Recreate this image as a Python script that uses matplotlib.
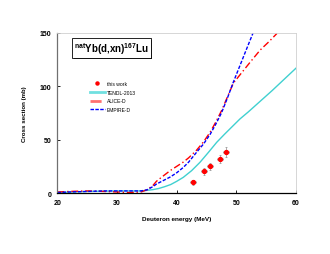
import matplotlib
matplotlib.use("Agg")
import matplotlib.pyplot as plt
import matplotlib.patheffects as pe
from matplotlib.lines import Line2D

plt.rcParams['font.family'] = ['Liberation Sans', 'DejaVu Sans']
plt.rcParams['mathtext.fontset'] = 'custom'
plt.rcParams['mathtext.bf'] = 'Liberation Sans:bold'
plt.rcParams['mathtext.rm'] = 'Liberation Sans'

exp_E = [42.8, 44.6, 45.6, 47.3, 48.2]
exp_xs = [10.0, 20.3, 25.0, 32.0, 38.7]
exp_dE = [0.5, 0.5, 0.5, 0.5, 0.5]
exp_dxs = [2.0, 3.0, 3.5, 4.0, 4.5]

tendl_E = [20, 25, 30, 33, 34, 35, 36, 37, 38, 39, 40, 41.1, 42.5, 43.9, 45.3, 46.7, 48, 48.9, 50.6, 52, 54, 56, 58, 60]
tendl_xs = [0.5, 1.5, 2.0, 2.0, 2.0, 2.5, 3.2, 4.3, 6.0, 8.0, 11.0, 14.7, 21.0, 28.8, 38.0, 47.5, 55.0, 60.0, 69.4, 76.0, 86.0, 96.0, 106.5, 117.0]

alice_E = [20, 22, 25, 28, 30, 32, 34, 35, 36, 36.6, 37.5, 38.9, 40, 41.1, 42, 43.3, 44.5, 45.6, 46.5, 47.5, 48.5, 49.5, 50.5, 52.3, 54, 55.5, 56.8]
alice_xs = [1.0, 1.5, 2.0, 1.5, 1.0, 0.5, 1.0, 3.0, 7.0, 11.0, 15.0, 21.0, 25.0, 29.0, 33.0, 40.0, 48.0, 57.0, 66.0, 77.0, 90.0, 103.0, 110.0, 122.5, 134.0, 142.0, 149.5]

empire_E = [20, 22, 25, 28, 30, 32, 34, 35, 36, 36.6, 37.5, 38.9, 40, 41.1, 42, 43.3, 44.5, 45.6, 46.5, 47.5, 48.5, 49.5, 50.5, 51.5, 52.8]
empire_xs = [0.5, 1.0, 1.5, 2.0, 2.0, 2.0, 2.0, 3.0, 6.0, 8.4, 11.0, 15.0, 19.0, 24.0, 29.0, 38.0, 46.0, 55.0, 64.0, 75.0, 89.0, 104.0, 118.0, 132.0, 150.0]

fig = plt.figure(figsize=(3.3, 2.55), dpi=100)
ax = fig.add_axes([0.174, 0.239, 0.723, 0.628])

ax.plot(tendl_E, tendl_xs, color='#40d0d0', lw=1.0)
ax.plot(alice_E, alice_xs, color='red', lw=1.0, ls=(0, (5, 2, 1, 2)))
ax.plot(empire_E, empire_xs, color='blue', lw=1.0, ls=(0, (2.5, 1.2)))
ax.errorbar(exp_E, exp_xs, xerr=exp_dE, yerr=exp_dxs, fmt='o', color='red', ms=2.8,
            ecolor='#909090', elinewidth=0.5, capsize=0.8, capthick=0.5, zorder=5)

ax.set_xlim(20, 60)
ax.set_ylim(0, 150)
ax.set_xticks([20, 30, 40, 50, 60])
ax.set_yticks([0, 50, 100, 150])
for s in ['top', 'right']:
    ax.spines[s].set_color('#d0d0d0')
    ax.spines[s].set_linewidth(0.6)
ax.spines['left'].set_color('#707070')
ax.spines['left'].set_linewidth(0.9)
ax.spines['bottom'].set_color('black')
ax.spines['bottom'].set_linewidth(0.9)
ax.tick_params(direction='in', length=2.5, width=0.6, labelsize=5, pad=4.3)
for lab in ax.get_xticklabels() + ax.get_yticklabels():
    lab.set_fontweight('bold')

ax.set_xlabel('Deuteron energy (MeV)', fontsize=4.6, fontweight='bold', labelpad=7)
ax.set_ylabel('Cross section (mb)', fontsize=4.4, fontweight='bold', labelpad=9)

handles = [
    Line2D([], [], color='red', marker='o', ms=2.2, ls='none'),
    Line2D([], [], color='#70e0e0', lw=2.0),
    Line2D([], [], color='#ff7070', lw=2.0, ls=(0, (4, 1.5, 1, 1.5))),
    Line2D([], [], color='blue', lw=1.0, ls=(0, (2.5, 1.0))),
]
labels = ['this work', 'TENDL-2013', 'ALICE-D', 'EMPIRE-D']
leg = ax.legend(handles, labels, loc='upper left',
                bbox_to_anchor=(0.135, 0.70), frameon=False, fontsize=3.6,
                handlelength=3.0, labelspacing=0.75, handletextpad=0.4,
                borderpad=0, borderaxespad=0)

t = ax.text(0.07, 0.955, r'$^{\mathbf{nat}}$Yb(d,xn)$^{\mathbf{167}}$Lu', transform=ax.transAxes,
            fontsize=7, fontweight='bold', va='top', ha='left',
            bbox=dict(boxstyle='square,pad=0.18', fc='white', ec='black', lw=0.6))
t.get_bbox_patch().set_path_effects([pe.SimplePatchShadow(offset=(1.2, -1.2), shadow_rgbFace='black', alpha=1.0),
                                     pe.Normal()])

fig.savefig('out.png', dpi=100)
